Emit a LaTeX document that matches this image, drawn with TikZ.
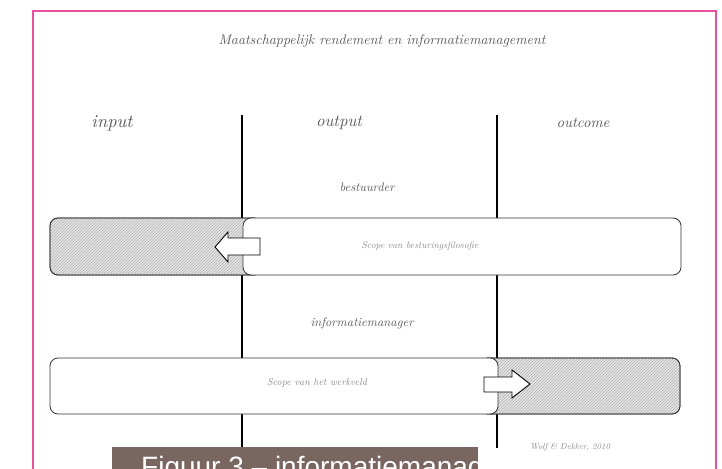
\documentclass[tikz,border=0pt]{standalone}
\usepackage{fontspec}
\newfontfamily\capfont{Liberation Sans}
\usetikzlibrary{patterns}
\definecolor{pinkframe}{HTML}{E8509E}
\definecolor{capbrown}{HTML}{7A6661}
\definecolor{scriptgray}{HTML}{5A5A5A}
\definecolor{lightscript}{HTML}{8A8A8A}
\newcommand{\fitw}[2]{\resizebox{#1pt}{!}{\fontsize{10}{12}\selectfont\itshape #2}}
\tikzset{
  lbl/.style={inner sep=0pt, text=scriptgray},
  boxlbl/.style={inner sep=0pt, text=lightscript},
  colline/.style={line width=1.8pt, black},
  hatchbox/.style={draw=black!80, line width=0.8pt, rounded corners=8pt, fill=black!10},
  hatchlines/.style={rounded corners=8pt, pattern=north east lines, pattern color=black!30},
  whitebox/.style={draw=black!80, line width=0.8pt, rounded corners=8pt, fill=white},
  arrowshape/.style={draw=black, line width=0.9pt, fill=white, line join=miter},
}
\begin{document}
\begin{tikzpicture}[x=1pt,y=-1pt]
\useasboundingbox (0,0) rectangle (722,468);
\fill[white] (0,0) rectangle (722,468);
% pink frame
\draw[pinkframe, line width=1.6pt] (33,480) -- (33,11) -- (716,11) -- (716,480);

% title and column labels
\node[lbl] (title) at (382,41) {\fitw{327}{Maatschappelijk rendement en informatiemanagement}};
\node[lbl] (input) at (112,123) {\fitw{41}{input}};
\node[lbl] (output) at (339,123) {\fitw{46}{output}};
\node[lbl] (outcome) at (583,123) {\fitw{53}{outcome}};

% column separators
\coordinate (l1top) at (242,115);
\coordinate (l1bot) at (242,447);
\coordinate (l2top) at (497,115);
\coordinate (l2bot) at (497,448);
\draw[colline] (l1top) -- (l1bot);
\draw[colline] (l2top) -- (l2bot);

% role labels
\node[lbl] (bestuurder) at (367,187) {\fitw{55}{bestuurder}};
\node[lbl] (infomanager) at (362,323) {\fitw{103}{informatiemanager}};

% band 1
\draw[hatchbox] (50,218) rectangle (262,275);
\fill[hatchlines] (50,218) rectangle (262,275);
\draw[hatchbox, fill=none] (50,218) rectangle (262,275);
\draw[whitebox] (243,218) rectangle (681,275);
\node[boxlbl] (scope1) at (420,246) {\fitw{117}{Scope van besturingsfilosofie}};
\draw[arrowshape] (260,238) -- (228,238) -- (228,232) -- (215,247) -- (228,262) -- (228,255) -- (260,255) -- cycle;

% band 2
\draw[hatchbox] (480,358) rectangle (680,414);
\fill[hatchlines] (480,358) rectangle (680,414);
\draw[hatchbox, fill=none] (480,358) rectangle (680,414);
\draw[whitebox] (50,358) rectangle (498,414);
\node[boxlbl] (scope2) at (317,383) {\fitw{100}{Scope van het werkveld}};
\draw[arrowshape] (484,377) -- (512,377) -- (512,370) -- (530,384) -- (512,398) -- (512,392) -- (484,392) -- cycle;

% credit
\node[boxlbl] (credit) at (570,447) {\fitw{80}{Wolf \& Dekker, 2010}};

% caption box
\fill[capbrown] (112,447) rectangle (478,470);
\begin{scope}
\clip (112,447) rectangle (478,470);
\node[anchor=base west, inner sep=0pt, text=white, font=\capfont\fontsize{28}{30}\selectfont] (caption) at (141,476) {Figuur 3 – informatiemanagement};
\end{scope}
\end{tikzpicture}
\end{document}
